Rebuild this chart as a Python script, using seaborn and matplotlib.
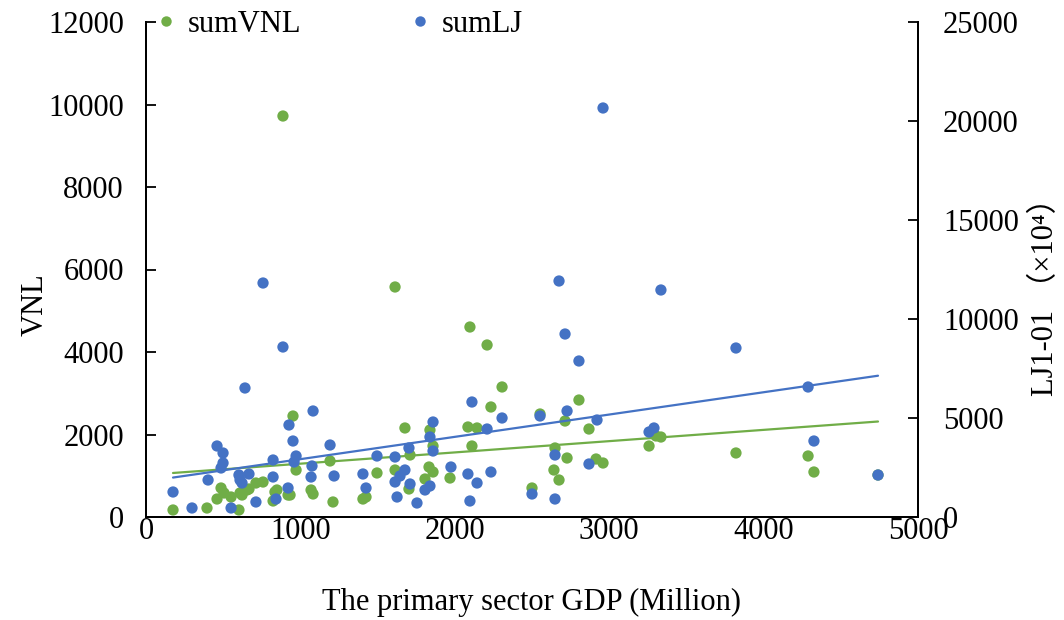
import numpy as np
import pandas as pd
import matplotlib
matplotlib.use("Agg")
import matplotlib.pyplot as plt
import seaborn as sns
from matplotlib.lines import Line2D

# Primary sector GDP (Million) and VNL night-light sums
gdp_vnl = [175, 395, 460, 486, 505, 551, 602, 609, 622, 654, 667, 712, 758, 823,
           835, 848, 920, 933, 887, 952, 972, 1069, 1082, 1192, 1211, 1405, 1425,
           1496, 1613, 1677, 1703, 1710, 1807, 1839, 1859, 1833, 1859, 1969, 2085,
           2144, 2111, 2234, 2098, 2209, 2306, 2552, 2714, 2649, 2642, 2675, 2727,
           2500, 2804, 2869, 2915, 2960, 3258, 3303, 3335, 3821, 4288, 4326, 4741,
           1613]
sum_vnl = [170, 218, 436, 703, 582, 485, 170, 582, 533, 655, 679, 824, 848, 388,
           606, 655, 533, 533, 9721, 2448, 1139, 655, 558, 1358, 364, 436, 485,
           1067, 1139, 2158, 679, 1503, 921, 2109, 1721, 1212, 1091, 945, 2182,
           2158, 1721, 2667, 4606, 4170, 3152, 2497, 2327, 1673, 1139, 897, 1430,
           703, 2836, 2133, 1406, 1309, 1721, 1964, 1939, 1552, 1479, 1091, 1018,
           5576]

# Primary sector GDP (Million) and LJ1-01 night-light sums (x10^4)
gdp_lj = [175, 298, 402, 460, 499, 499, 486, 551, 602, 609, 622, 641, 667, 712,
          758, 823, 823, 842, 887, 920, 926, 952, 972, 959, 1069, 1075, 1082, 1192,
          1218, 1405, 1425, 1496, 1613, 1613, 1626, 1645, 1677, 1710, 1703, 1755,
          1807, 1839, 1839, 1859, 1859, 1975, 2085, 2144, 2111, 2098, 2209, 2234,
          2306, 2500, 2649, 2552, 2649, 2727, 2714, 2804, 2869, 2921, 3258, 3290,
          3821, 4288, 4326, 4741, 2960, 2675, 3335]
sum_lj = [1263, 455, 1869, 3586, 3232, 2727, 2475, 455, 2121, 1869, 1717, 6515,
          2172, 758, 11818, 2020, 2879, 909, 8586, 1465, 4646, 3838, 3081, 2778,
          2020, 2576, 5354, 3636, 2071, 2172, 1465, 3081, 3030, 1768, 1010, 2071,
          2374, 1667, 3485, 707, 1364, 1566, 4040, 4798, 3333, 2525, 2172, 1717,
          5808, 808, 4444, 2273, 5000, 1162, 909, 5101, 3131, 5354, 9242, 7879,
          2677, 4899, 4293, 4495, 8535, 6566, 3838, 2121, 20657, 11919, 11465]

x_ticks = [0, 1000, 2000, 3000, 4000, 5000]
vnl_ticks = [0, 2000, 4000, 6000, 8000, 10000, 12000]
lj_ticks = [0, 5000, 10000, 15000, 20000, 25000]

GREEN = "#70AD47"
BLUE = "#4472C4"

sns.set_theme(style="white")
plt.rcParams["font.family"] = ["Liberation Serif", "Noto Sans CJK SC", "DejaVu Sans"]
plt.rcParams["text.color"] = "black"
plt.rcParams["axes.labelcolor"] = "black"

df_vnl = pd.DataFrame({"gdp": gdp_vnl, "val": sum_vnl})
df_lj = pd.DataFrame({"gdp": gdp_lj, "val": sum_lj})

fig = plt.figure(figsize=(10.64, 6.2), dpi=100)
ax = fig.add_axes([146 / 1064, 1 - 517 / 620, (918 - 146) / 1064, (517 - 22) / 620])
ax2 = ax.twinx()

sns.scatterplot(data=df_vnl, x="gdp", y="val", ax=ax, color=GREEN, s=66,
                edgecolor="none", zorder=3)
sns.regplot(data=df_vnl, x="gdp", y="val", ax=ax, scatter=False, ci=None,
            truncate=True, color=GREEN, line_kws={"lw": 1.6, "zorder": 4})

sns.scatterplot(data=df_lj, x="gdp", y="val", ax=ax2, color=BLUE, s=66,
                edgecolor="none", zorder=3)
sns.regplot(data=df_lj, x="gdp", y="val", ax=ax2, scatter=False, ci=None,
            truncate=True, color=BLUE, line_kws={"lw": 1.6, "zorder": 4})

ax.set_xlim(0, 5000)
ax.set_ylim(0, 12000)
ax2.set_ylim(0, 25000)
ax.set_xticks(x_ticks)
ax.set_yticks(vnl_ticks)
ax2.set_yticks(lj_ticks)

fs = 22
for a in (ax, ax2):
    a.tick_params(axis="both", direction="in", length=7, width=1.3,
                  labelsize=fs, color="black", labelcolor="black")
    for side in ("left", "right", "bottom"):
        a.spines[side].set_visible(True)
        a.spines[side].set_color("black")
        a.spines[side].set_linewidth(1.4)
    a.spines["top"].set_visible(False)
ax.tick_params(axis="y", pad=16)
ax.tick_params(axis="x", pad=0)
ax2.tick_params(axis="y", pad=18)

ax.set_xlabel("The primary sector GDP (Million)", fontsize=fs)
ax.xaxis.set_label_coords(0.5, -(588 - 517) / 495)
ax.set_ylabel("VNL", fontsize=fs)
ax.yaxis.set_label_coords(-(146 - 50) / 772, (517 - 305) / 495)
ax2.set_ylabel("LJ1-01 （×10⁴）", fontsize=fs)
ax2.yaxis.set_label_coords(1 + (1031 - 918) / 772, (517 - 290) / 495)

handles = [
    Line2D([], [], marker="o", ls="none", color=GREEN, markersize=7.5, markeredgewidth=0),
    Line2D([], [], marker="o", ls="none", color=BLUE, markersize=7.5, markeredgewidth=0),
]
fig.legend(handles, ["sumVNL", "sumLJ"], loc="center left",
           bbox_to_anchor=(154 / 1064, 1 - 24 / 620), ncol=2, frameon=False,
           fontsize=fs, handlelength=0.8, handletextpad=0.3, columnspacing=3.5,
           borderaxespad=0, borderpad=0)

fig.savefig("out.png", dpi=100, facecolor="white")
